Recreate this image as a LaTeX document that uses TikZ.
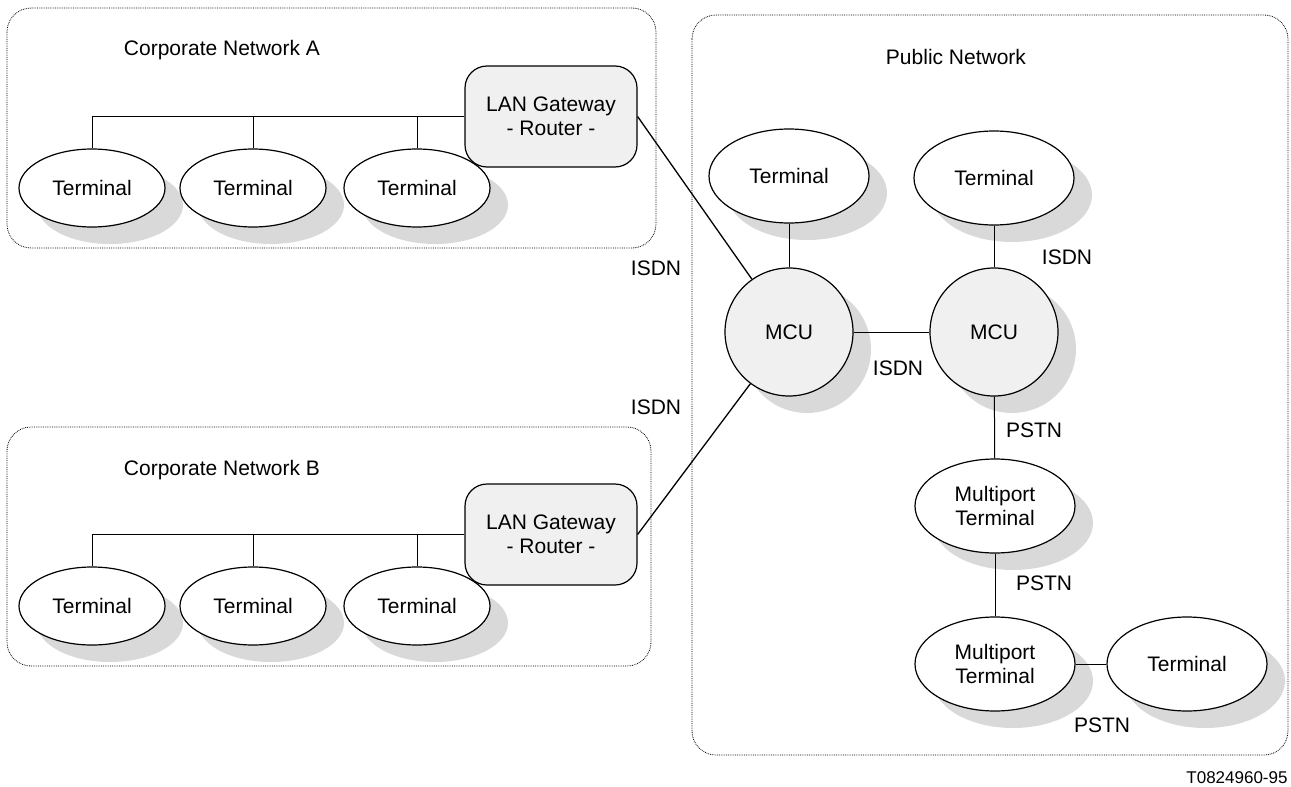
\documentclass[tikz,border=0pt]{standalone}
\usepackage{fontspec}
\setmainfont{Liberation Sans}
\usetikzlibrary{shapes.geometric,shadows}
\definecolor{shadegray}{HTML}{D9D9D9}
\definecolor{lightfill}{HTML}{F0F0F0}
\begin{document}
\begin{tikzpicture}[x=1pt,y=-1pt,
  every node/.style={font=\fontsize{21}{23.5}\selectfont},
  shad/.style={drop shadow={shadow xshift=18pt,shadow yshift=-17pt,fill=shadegray,opacity=1}},
  cterm/.style={ellipse,draw,line width=1.2pt,fill=white,minimum width=146pt,minimum height=78pt,inner sep=0pt,shad},
  pterm/.style={cterm,minimum width=160pt,minimum height=94pt},
  mcu/.style={circle,draw,line width=1.2pt,fill=lightfill,minimum size=128pt,inner sep=0pt,shad},
  gw/.style={draw,line width=1.2pt,fill=lightfill,rounded corners=22pt,minimum width=172pt,minimum height=101pt,align=center,inner sep=0pt},
  netbox/.style={draw,densely dotted,line width=0.8pt,rounded corners=24pt},
  link/.style={line width=1pt},
  wan/.style={line width=1.3pt}]
\useasboundingbox (0,0) rectangle (1291,787);
% network boxes
\draw[netbox] (7,8) rectangle (656,248);
\draw[netbox] (7,427) rectangle (651,666);
\draw[netbox] (692,15) rectangle (1288,755);
% corporate network A
\node (ta) at (222,50) {Corporate Network A};
\node[cterm] (a1) at (92,188) {Terminal};
\node[cterm] (a2) at (253,188) {Terminal};
\node[cterm] (a3) at (417,188) {Terminal};
\node[gw] (gwa) at (551,116.5) {LAN Gateway\\- Router -};
% corporate network B
\node (tb) at (222,470) {Corporate Network B};
\node[cterm] (b1) at (92,606) {Terminal};
\node[cterm] (b2) at (253,606) {Terminal};
\node[cterm] (b3) at (417,606) {Terminal};
\node[gw] (gwb) at (551,534.5) {LAN Gateway\\- Router -};
% public network
\node (tp) at (956,57) {Public Network};
\node[pterm] (p1) at (789,176) {Terminal};
\node[pterm] (p2) at (994,178) {Terminal};
\node[mcu] (m1) at (789,332) {MCU};
\node[mcu] (m2) at (994,332) {MCU};
\node[pterm,align=center] (mp1) at (995,506) {Multiport\\Terminal};
\node[pterm,align=center] (mp2) at (995,664) {Multiport\\Terminal};
\node[pterm] (p3) at (1187,664) {Terminal};
% LAN buses
\draw[link] (a1.north) |- (gwa.west);
\draw[link] (a2.north) -- (a2.north |- gwa.west);
\draw[link] (a3.north) -- (a3.north |- gwa.west);
\draw[link] (b1.north) |- (gwb.west);
\draw[link] (b2.north) -- (b2.north |- gwb.west);
\draw[link] (b3.north) -- (b3.north |- gwb.west);
% WAN links
\draw[wan] (gwa.east) -- (m1);
\draw[wan] (gwb.east) -- (m1);
\draw[link] (p1) -- (m1);
\draw[link] (p2) -- (m2);
\draw[link] (m1) -- (m2);
\draw[link] (m2) -- (mp1);
\draw[link] (mp1) -- (mp2);
\draw[link] (mp2) -- (p3);
% labels
\node (l1) at (656,268) {ISDN};
\node (l2) at (656,407) {ISDN};
\node (l3) at (898,368) {ISDN};
\node (l4) at (1067,257) {ISDN};
\node (l5) at (1034,430) {PSTN};
\node (l6) at (1044,583) {PSTN};
\node (l7) at (1102,725) {PSTN};
\node[font=\fontsize{17}{20}\selectfont] (id) at (1237,778) {T0824960-95};
\end{tikzpicture}
\end{document}
